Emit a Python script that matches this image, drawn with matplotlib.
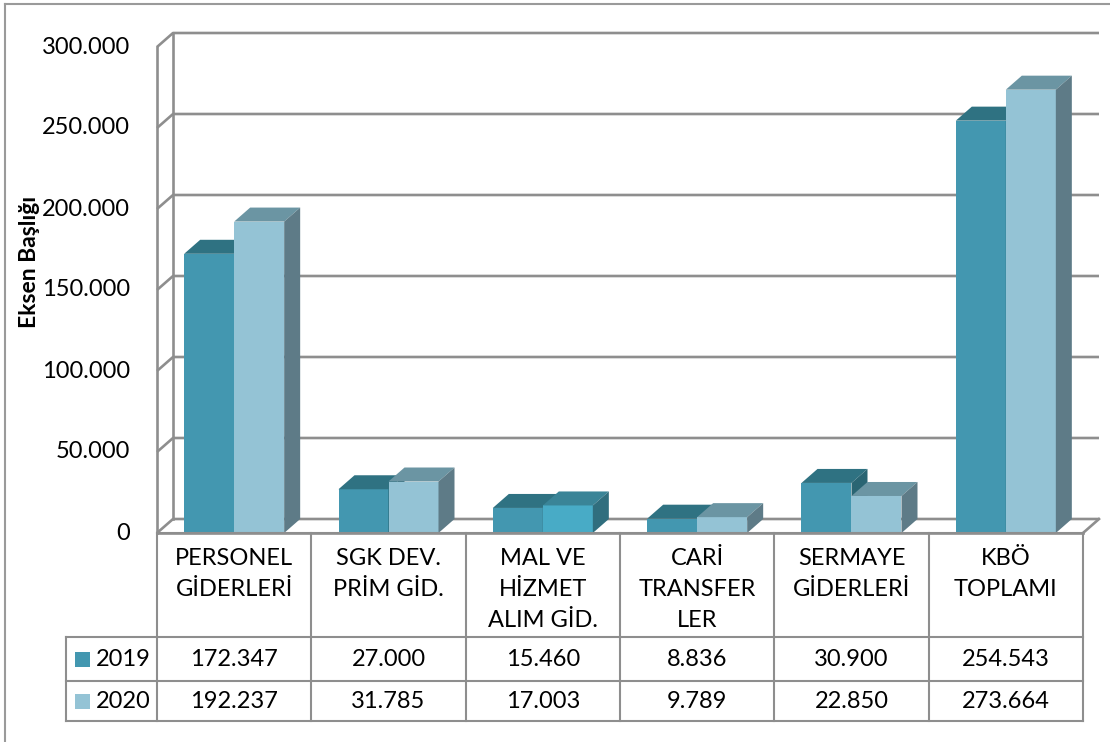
import matplotlib
matplotlib.use("Agg")
import matplotlib.pyplot as plt
from matplotlib.patches import Polygon, Rectangle
from matplotlib.lines import Line2D

plt.rcParams['font.family'] = ['Lato', 'DejaVu Sans']

# ---------------- data ----------------
categories = ["PERSONEL\nGİDERLERİ", "SGK DEV.\nPRİM GİD.", "MAL VE\nHİZMET\nALIM GİD.",
              "CARİ\nTRANSFER\nLER", "SERMAYE\nGİDERLERİ", "KBÖ\nTOPLAMI"]
series_names = ["2019", "2020"]
values_2019 = [172347, 27000, 15460, 8836, 30900, 254543]
values_2020 = [192237, 31785, 17003, 9789, 22850, 273664]
yticks = [0, 50000, 100000, 150000, 200000, 250000, 300000]
y_title = "Eksen Başlığı"

# ---------------- style ----------------
W, H = 1110, 742
GRID = "#8E8E8E"
TXT = "#000000"
FS = 17
colors = {
    "2019": dict(front="#4397B0", top="#2F7282", side="#2A6573"),
    "2020": dict(front="#94C3D5", top="#6B95A3", side="#5E7B87"),
}
special_2020_idx = 2  # "MAL VE HİZMET" 2020 bar is differently shaded in the reference
special = dict(front="#48ABC6", top="#3A8497", side="#306E7E")


def px(x0, y0, x1, y1):
    return [x0 / W, 1 - y1 / H, (x1 - x0) / W, (y1 - y0) / H]


def fmt(v):
    return f"{v:,}".replace(",", ".")


fig = plt.figure(figsize=(W / 100, H / 100), dpi=100)

# outer border (left/top visible)
fig.add_artist(Line2D([5 / W, 5 / W], [1 - 4 / H, 0], color="#9A9A9A", lw=1.5))
fig.add_artist(Line2D([5 / W, 1], [1 - 4 / H, 1 - 4 / H], color="#9A9A9A", lw=1.5))

ax = fig.add_axes(px(157, 47, 1083, 533))
ncat = len(categories)
ax.set_xlim(0, ncat)
ax.set_ylim(yticks[0], yticks[-1])
ax.axis("off")

cat_px = (1083 - 157) / ncat
DX = 16 / cat_px
DY = 14 / (533 - 47) * (yticks[-1] - yticks[0])

# walls and gridlines
for v in yticks:
    ax.plot([0, DX, ncat + DX], [v, v + DY, v + DY], color=GRID, lw=1.9,
            clip_on=False, zorder=1, solid_capstyle="butt")
    ax.text(-27 / cat_px, v, fmt(v), ha="right", va="center", fontsize=FS, color=TXT)
ax.plot([0, 0], [0, yticks[-1]], color=GRID, lw=1.9, clip_on=False, zorder=1)
ax.plot([DX, DX], [DY, yticks[-1] + DY], color=GRID, lw=1.9, clip_on=False, zorder=1)
ax.plot([0, ncat], [0, 0], color=GRID, lw=1.9, clip_on=False, zorder=1)
ax.plot([ncat, ncat + DX], [0, DY], color=GRID, lw=1.9, clip_on=False, zorder=1)

# 3D-looking bars
bw = 50 / cat_px
z = 5
for i in range(ncat):
    for s, (name, vals) in enumerate(zip(series_names, [values_2019, values_2020])):
        c = colors[name]
        if name == "2020" and i == special_2020_idx:
            c = special
        x0 = i + 0.5 - bw + s * bw
        x1 = x0 + bw
        h = vals[i]
        ax.bar(x0, h, width=bw, align="edge", color=c["front"], lw=0, zorder=z)
        top = Polygon([(x0, h), (x0 + DX, h + DY), (x1 + DX, h + DY), (x1, h)],
                      closed=True, facecolor=c["top"], edgecolor="none", zorder=z, clip_on=False)
        side = Polygon([(x1, 0), (x1 + DX, DY), (x1 + DX, h + DY), (x1, h)],
                       closed=True, facecolor=c["side"], edgecolor="none", zorder=z, clip_on=False)
        ax.add_patch(top)
        ax.add_patch(side)
        z += 1

fig.text(30 / W, 1 - 262 / H, y_title, rotation=90, ha="center", va="center",
         fontsize=16.5, fontweight="bold", color=TXT)

# ---------------- data table ----------------
tax = fig.add_axes(px(66, 533, 1083, 721))
xl = -(157 - 66) / cat_px
tax.set_xlim(xl, ncat)
tax.set_ylim(188, 0)
tax.axis("off")
row_edges = [0, 104, 148, 188]
for yv in row_edges:
    tax.plot([0 if yv == 0 else xl, ncat], [yv, yv], color=GRID, lw=1.5, clip_on=False)
for k in range(ncat + 1):
    tax.plot([k, k], [0, 188], color=GRID, lw=1.5, clip_on=False)
tax.plot([xl, xl], [104, 188], color=GRID, lw=1.5, clip_on=False)

for i, lab in enumerate(categories):
    tax.text(i + 0.5, 15, lab, ha="center", va="top", fontsize=FS, linespacing=1.6, color=TXT)

for r, (name, vals) in enumerate(zip(series_names, [values_2019, values_2020])):
    yc = (row_edges[r + 1] + row_edges[r + 2]) / 2
    for i, v in enumerate(vals):
        tax.text(i + 0.5, yc, fmt(v), ha="center", va="center", fontsize=FS, color=TXT)
    tax.add_patch(Rectangle(((75 - 157) / cat_px, yc - 7.5), 15 / cat_px, 15,
                            facecolor=colors[name]["front"], edgecolor="none"))
    tax.text((96 - 157) / cat_px, yc, name, ha="left", va="center", fontsize=FS, color=TXT)

fig.savefig("out.png", dpi=100)
